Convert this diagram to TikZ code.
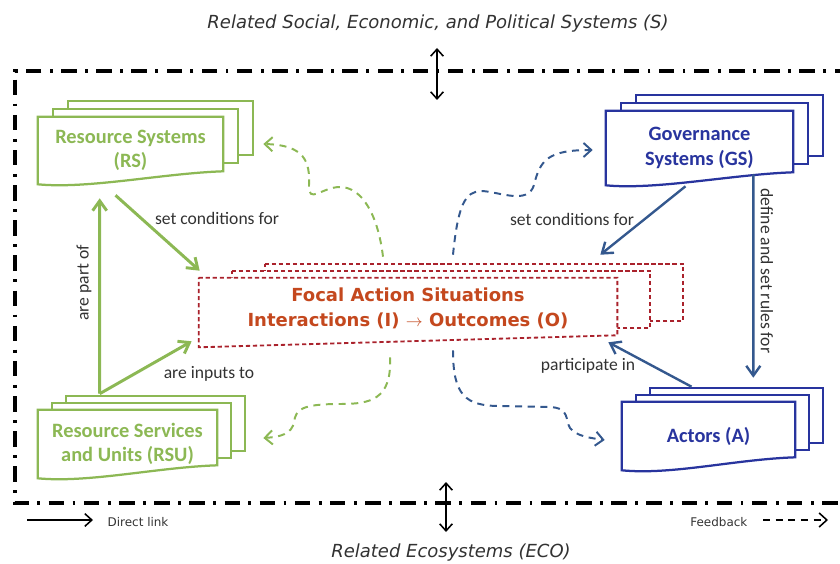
\documentclass[tikz,border=0pt]{standalone}
\usepackage{fontspec}
\setmainfont{Carlito}
\newfontfamily\verdana{DejaVu Sans}
\usetikzlibrary{arrows.meta,calc,backgrounds}

\definecolor{resgreen}{RGB}{140,184,84}
\definecolor{govblue}{RGB}{40,52,158}
\definecolor{arrowblue}{RGB}{52,88,142}
\definecolor{focalred}{RGB}{170,34,44}
\definecolor{focalorange}{RGB}{196,72,30}
\definecolor{legendgray}{RGB}{50,50,50}

\tikzset{
  stacknode/.style={minimum width=#1, inner sep=0pt, align=center,
    font=\fontsize{14.5}{17.5}\selectfont\bfseries},
  lbl/.style={font=\fontsize{12.5}{14}\selectfont, text=legendgray, inner sep=1pt},
  glink/.style={resgreen, line width=2.1pt, -{Straight Barb[length=7pt,width=10pt]}},
  blink/.style={arrowblue, line width=1.7pt, -{Straight Barb[length=7pt,width=10pt]}},
  fb/.style={line width=1.4pt, dash pattern=on 5pt off 4pt,
    -{Straight Barb[length=5.5pt,width=10pt]}},
  frame/.style={line width=2.2pt, dash pattern=on 11pt off 6pt on 2pt off 6pt},
  both/.style={line width=1.1pt, {Straight Barb[length=5pt,width=9pt]}-{Straight Barb[length=5pt,width=9pt]}},
  legend/.style={font=\verdana\fontsize{8.5}{10}\selectfont, text=legendgray, inner sep=1pt},
  outer/.style={font=\verdana\itshape\fontsize{12.8}{15}\selectfont, text=legendgray}
}

% three stacked sheets behind node #1, colour #2, sheet offset (#3,#4)
\newcommand{\docstack}[4]{%
  \begin{pgfonlayer}{background}
    \foreach \k in {2,1}
      \draw[#2, line width=1.6pt, fill=white]
        ($(#1.north west)+\k*(#3,#4)$) -- ($(#1.north east)+\k*(#3,#4)$)
        -- ($(#1.south east)+(0,-13)+\k*(#3,#4)$) -- ($(#1.south west)+(0,-13)+\k*(#3,#4)$) -- cycle;
    \draw[#2, line width=1.6pt, fill=white]
      (#1.north west) -- (#1.north east) -- ($(#1.south east)+(0,-13)$)
      .. controls +(-60,2) and +(50,5) .. (#1.south west) -- cycle;
  \end{pgfonlayer}
}

\begin{document}
\begin{tikzpicture}[x=0.025cm, y=-0.025cm]
\clip (0,0) rectangle (840,564);

% surrounding systems
\node[outer] (social) at (438,24) {Related Social, Economic, and Political Systems (S)};
\node[outer] (eco) at (451,553) {Related Ecosystems (ECO)};
\draw[frame] (850,71) -- (15,71) -- (15,503) -- (850,503);
\coordinate (sTop) at (437,48);
\coordinate (sBot) at (437,100);
\coordinate (eTop) at (446,482);
\coordinate (eBot) at (446,532);
\draw[both] (sTop) -- (sBot);
\draw[both] (eTop) -- (eBot);

% first-tier variables
\node[stacknode=4.625cm, minimum height=1.675cm, text=resgreen] (rs) at (130.5,150.5) {Resource Systems\\(RS)};
\node[stacknode=4.675cm, minimum height=1.85cm, text=govblue] (gs) at (699.5,148) {Governance\\Systems (GS)};
\node[stacknode=4.475cm, minimum height=1.7cm, text=resgreen] (rsu) at (127.5,444) {Resource Services\\and Units (RSU)};
\node[stacknode=4.325cm, minimum height=1.7cm, text=govblue] (actors) at (708.5,436) {Actors (A)};
\docstack{rs}{resgreen}{15}{-8}
\docstack{gs}{govblue}{15}{-8}
\docstack{rsu}{resgreen}{14}{-7}
\docstack{actors}{govblue}{14}{-7}

% action situations
\node[minimum width=10.45cm, minimum height=1.725cm, align=center, inner sep=0pt, text depth=7.5pt,
  font=\verdana\bfseries\fontsize{12.8}{17.5}\selectfont, text=focalorange] (focal) at (408,312.5)
  {Focal Action Situations\\Interactions (I) \(\rightarrow\) Outcomes (O)};
\begin{pgfonlayer}{background}
  \foreach \k in {2,1}
    \draw[focalred, line width=1.3pt, dash pattern=on 3pt off 2pt, fill=white]
      ($(focal.north west)+\k*(33,-7)$) -- ($(focal.north east)+\k*(33,-7)$)
      -- ($(focal.south east)+(0,-12)+\k*(33,-7)$) -- ($(focal.south west)+(0,-12)+\k*(33,-7)$) -- cycle;
  \draw[focalred, line width=1.3pt, dash pattern=on 3pt off 2pt, fill=white]
    (focal.north west) -- (focal.north east) -- ($(focal.south east)+(0,-12)$) -- (focal.south west) -- cycle;
\end{pgfonlayer}

% direct links
\coordinate (rsufoot) at ([shift={(62,-16)}]rsu.north west);
\draw[glink] ([shift={(-15,11)}]rs.south) -- ([shift={(1,-7)}]focal.north west);
\draw[glink] (rsufoot) -- ([shift={(62,14)}]rs.south west);
\draw[glink] (rsufoot) -- ([shift={(-7,-6)}]focal.south west);
\draw[blink] ([shift={(-14,1)}]gs.south) -- ([shift={(-17,-23)}]focal.north east);
\draw[blink] ([shift={(-40,-11)}]gs.south east) -- ([shift={(-42,-24)}]actors.north east);
\draw[blink] ([shift={(-17,-15)}]actors.north) -- ([shift={(-9,-5)}]focal.south east);

\node[lbl] (rscond) at (217,218) {set conditions for};
\node[lbl, rotate=90] (partof) at (84,283) {are part of};
\node[lbl] (inputs) at (209,374) {are inputs to};
\node[lbl] (gscond) at (572,219) {set conditions for};
\node[lbl, rotate=-90] (rules) at (767,271) {define and set rules for};
\node[lbl] (partic) at (588,366) {participate in};

% feedbacks
\draw[fb, resgreen] ([shift={(-25,-21)}]focal.north) .. controls (378,215) and (362,187) .. (340,187)
  .. controls (322,187) and (308,205) .. (309,185) .. controls (310,162) and (305,145) .. ([shift={(40,-6.5)}]rs.east);
\draw[fb, arrowblue] ([shift={(45,-23)}]focal.north) .. controls (458,205) and (465,191) .. (482,191)
  .. controls (500,192) and (528,205) .. (534,185) .. controls (540,160) and (548,150) .. ([shift={(-13,2)}]gs.west);
\draw[fb, resgreen] ([shift={(-18,10)}]focal.south) .. controls (392,400) and (370,404) .. (340,404)
  .. controls (300,404) and (296,410) .. (294,422) .. controls (292,434) and (280,437) .. ([shift={(46,-6)}]rsu.east);
\draw[fb, arrowblue] ([shift={(45,3)}]focal.south) .. controls (453,395) and (465,406) .. (500,406) -- (550,407)
  .. controls (570,408) and (565,420) .. (570,428) .. controls (576,436) and (590,438) .. ([shift={(-17,4)}]actors.west);

% legend
\node[legend, anchor=west] (direct) at (106,522) {Direct link};
\node[legend, anchor=east] (feedback) at (749,522) {Feedback};
\coordinate (directtail) at (27,520);
\coordinate (fbhead) at (828,520);
\draw[line width=1.1pt, -{Straight Barb[length=5pt,width=9pt]}] (directtail) -- ([shift={(-13,-2)}]direct.west);
\draw[fb, line width=1.1pt] ([shift={(14,-2)}]feedback.east) -- (fbhead);
\end{tikzpicture}
\end{document}
